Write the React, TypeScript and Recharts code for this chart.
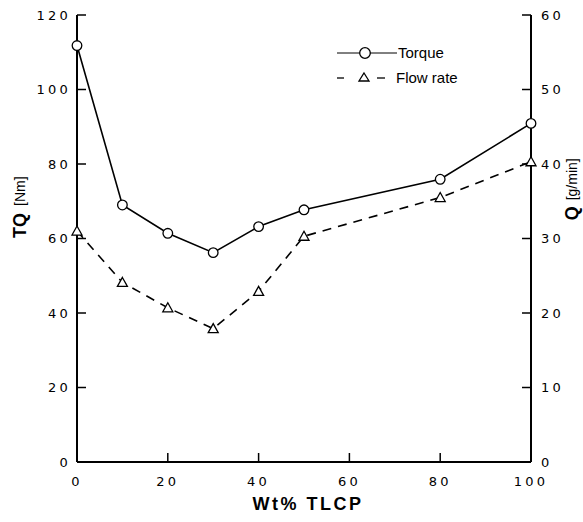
import React from 'react';
import { ComposedChart, Line, XAxis, YAxis, Legend } from 'recharts';

const wtPercent = [0, 10, 20, 30, 40, 50, 80, 100];
const torque = [111.8, 69.0, 61.4, 56.2, 63.2, 67.7, 75.9, 90.9];
const flowRate = [31.0, 24.1, 20.7, 17.9, 22.9, 30.3, 35.5, 40.3];
const xTicks = [0, 20, 40, 60, 80, 100];
const topTicks = [20, 40, 60, 80];
const leftTicks = [0, 20, 40, 60, 80, 100, 120];
const rightTicks = [0, 10, 20, 30, 40, 50, 60];

const data = wtPercent.map((x, i) => ({ x, torque: torque[i], flow: flowRate[i] }));

const TICK_FONT = { fontFamily: '"DejaVu Sans", sans-serif', fontSize: 13, fill: '#000', letterSpacing: 3.2 };
const LABEL_FONT = '"Liberation Sans", Arial, sans-serif';

const CircleDot = (props: any) => {
  const { cx, cy } = props;
  if (cx == null || cy == null) return null;
  return <circle cx={cx} cy={cy} r={4.8} fill="#fff" stroke="#000" strokeWidth={1.3} />;
};

const TriDot = (props: any) => {
  const { cx, cy } = props;
  if (cx == null || cy == null) return null;
  return (
    <path
      d={`M${cx},${cy - 5} L${cx + 5},${cy + 4} L${cx - 5},${cy + 4} Z`}
      fill="#fff"
      stroke="#000"
      strokeWidth={1.3}
    />
  );
};

const renderLegend = () => (
  <div style={{ fontFamily: LABEL_FONT, fontSize: 15, color: '#000', lineHeight: '25px' }}>
    <div style={{ display: 'flex', alignItems: 'center', height: 25 }}>
      <svg width={61} height={16} style={{ display: 'block' }}>
        <line x1={0} y1={8} x2={60} y2={8} stroke="#000" strokeWidth={1} />
        <circle cx={28} cy={8} r={5.3} fill="#fff" stroke="#000" strokeWidth={1.3} />
      </svg>
      <span>Torque</span>
    </div>
    <div style={{ display: 'flex', alignItems: 'center', height: 25 }}>
      <svg width={59} height={16} style={{ display: 'block' }}>
        <line x1={0} y1={8} x2={7} y2={8} stroke="#000" strokeWidth={1.3} />
        <path d="M27,3 L32,11 L22,11 Z" fill="#fff" stroke="#000" strokeWidth={1.3} />
        <line x1={40} y1={8} x2={48} y2={8} stroke="#000" strokeWidth={1.3} />
      </svg>
      <span>Flow rate</span>
    </div>
  </div>
);

const LeftLabel = (props: any) => {
  const vb = props.viewBox || {};
  const cx = vb.x + 20;
  const cy = vb.y + vb.height * 0.43;
  return (
    <text
      x={cx}
      y={cy}
      transform={`rotate(-90, ${cx}, ${cy})`}
      textAnchor="middle"
      dominantBaseline="central"
      fontFamily={LABEL_FONT}
      fill="#000"
    >
      <tspan fontWeight="bold" fontSize={18}>TQ</tspan>
      <tspan fontSize={14} dx={7}>[Nm]</tspan>
    </text>
  );
};

const RightLabel = (props: any) => {
  const vb = props.viewBox || {};
  const cx = vb.x + 41;
  const cy = vb.y + vb.height * 0.39;
  return (
    <text
      x={cx}
      y={cy}
      transform={`rotate(-90, ${cx}, ${cy})`}
      textAnchor="middle"
      dominantBaseline="central"
      fontFamily={LABEL_FONT}
      fill="#000"
    >
      <tspan fontWeight="bold" fontSize={18}>Q</tspan>
      <tspan fontSize={14} dx={6}>[g/min]</tspan>
    </text>
  );
};

const BottomLabel = (props: any) => {
  const vb = props.viewBox || {};
  const cx = vb.x + vb.width / 2 + 4;
  const cy = vb.y + 42;
  return (
    <text
      x={cx}
      y={cy}
      textAnchor="middle"
      dominantBaseline="central"
      fontFamily={LABEL_FONT}
      fontWeight="bold"
      fontSize={18}
      letterSpacing={2.5}
      fill="#000"
    >
      Wt%  TLCP
    </text>
  );
};

export default function App() {
  const axisLine = { stroke: '#000', strokeWidth: 2 };
  const tickLine = { stroke: '#000', strokeWidth: 1.5 };
  return (
    <div style={{ position: 'absolute', left: 0, top: 0, background: '#fff' }}>
      <ComposedChart width={583} height={522} data={data} margin={{ top: 15, right: 0, bottom: 0, left: 0 }}>
        <XAxis
          xAxisId="bottom"
          dataKey="x"
          type="number"
          domain={[0, 100]}
          ticks={xTicks}
          height={60}
          axisLine={axisLine}
          tickLine={tickLine}
          tickSize={-9}
          tickMargin={24}
          tick={TICK_FONT}
          interval={0}
          label={<BottomLabel />}
        />
        <XAxis
          xAxisId="top"
          dataKey="x"
          type="number"
          orientation="top"
          domain={[0, 100]}
          ticks={topTicks}
          height={0}
          axisLine={axisLine}
          tickLine={tickLine}
          tickSize={-9}
          tick={false}
        />
        <YAxis
          yAxisId="left"
          type="number"
          domain={[0, 120]}
          ticks={leftTicks}
          width={77}
          axisLine={axisLine}
          tickLine={tickLine}
          tickSize={-9}
          tickMargin={15}
          tick={TICK_FONT}
          interval={0}
          label={<LeftLabel />}
        />
        <YAxis
          yAxisId="right"
          orientation="right"
          type="number"
          domain={[0, 60]}
          ticks={rightTicks}
          width={52}
          axisLine={axisLine}
          tickLine={tickLine}
          tickSize={-9}
          tickMargin={19}
          tick={TICK_FONT}
          interval={0}
          label={<RightLabel />}
        />
        <Legend
          layout="horizontal"
          verticalAlign="middle"
          align="center"
          content={renderLegend}
          wrapperStyle={{ left: 337, top: 40, width: 150 }}
        />
        <Line
          xAxisId="bottom"
          yAxisId="left"
          dataKey="torque"
          stroke="#000"
          strokeWidth={1.6}
          dot={<CircleDot />}
          activeDot={false}
          isAnimationActive={false}
          legendType="none"
        />
        <Line
          xAxisId="bottom"
          yAxisId="right"
          dataKey="flow"
          stroke="#000"
          strokeWidth={1.6}
          strokeDasharray="9 7"
          dot={<TriDot />}
          activeDot={false}
          isAnimationActive={false}
          legendType="none"
        />
      </ComposedChart>
    </div>
  );
}
